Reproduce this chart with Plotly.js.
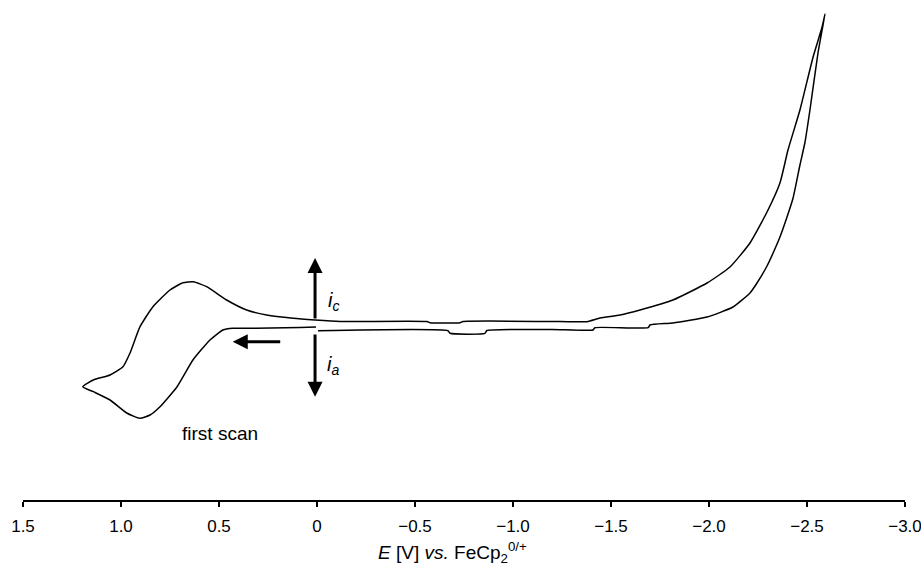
<!DOCTYPE html>
<html>
<head>
<meta charset="utf-8">
<script src="https://cdn.plot.ly/plotly-3.0.1.min.js"></script>
<style>html,body{margin:0;padding:0;background:#fff;}#chart{width:921px;height:569px;}</style>
</head>
<body>
<div id="chart"></div>
<script>
// Potential E (V vs FeCp2 0/+) and current (arbitrary units)
const potential = [
  0.005, 0.087, 0.235, 0.393, 0.429, 0.480, 0.546, 0.633, 0.714, 0.801, 0.852, 0.903, 0.971, 1.056, 1.141, 1.195,
  1.141, 1.056, 0.990, 0.954, 0.903, 0.837, 0.750, 0.684, 0.631, 0.563, 0.461, 0.359, 0.257, 0.122, 0.010,
  -0.117, -0.561, -0.577, -0.730, -0.745, -1.240, -1.378, -1.444, -1.546, -1.648, -1.816, -1.990, -2.107,
  -2.209, -2.296, -2.362, -2.403, -2.464, -2.531, -2.577, -2.592,
  -2.577, -2.556, -2.515, -2.490, -2.464, -2.429, -2.398, -2.362, -2.327, -2.296, -2.245, -2.209, -2.122,
  -1.990, -1.816, -1.699,
  -1.689, -1.418, -1.408, -1.199, -0.867, -0.857, -0.679, -0.668, -0.005
];
const current = [
  0.3, 0.25, 0.2, 0.17, 0.17, 0.0, -1.0, -3.0, -5.67, -7.67, -8.5, -8.83, -8.3, -7.0, -6.17, -5.67,
  -5.0, -4.5, -3.67, -2.3, 0.33, 2.33, 4.0, 4.73, 4.83, 4.33, 3.0, 2.0, 1.5, 1.17, 1.0,
  0.85, 0.85, 0.73, 0.73, 0.85, 0.85, 0.83, 1.2, 1.5, 2.0, 3.0, 4.7, 6.3,
  8.7, 11.8, 14.7, 18.0, 22.0, 27.3, 30.3, 31.6,
  30.0, 27.7, 22.0, 18.8, 16.5, 13.2, 11.3, 9.3, 7.7, 6.4, 4.7, 3.7, 2.3,
  1.3, 0.7, 0.5,
  0.23, 0.23, 0.0, 0.05, -0.05, -0.33, -0.33, -0.07, -0.07
];
const tickValues = [1.5, 1.0, 0.5, 0, -0.5, -1.0, -1.5, -2.0, -2.5, -3.0];
const tickLabels = ['1.5', '1.0', '0.5', '0', '\u22120.5', '\u22121.0', '\u22121.5', '\u22122.0', '\u22122.5', '\u22123.0'];

const font = 'Liberation Sans, Arial, Helvetica, sans-serif';

const trace = {
  x: potential, y: current, type: 'scatter', mode: 'lines',
  line: {color: '#000', width: 1.5, shape: 'spline', smoothing: 0.5},
  hoverinfo: 'skip'
};

const arrowCommon = {
  xref: 'x', yref: 'y', axref: 'x', ayref: 'y', text: '', showarrow: true,
  arrowhead: 2, arrowsize: 1, arrowwidth: 3, arrowcolor: '#000', standoff: 0, startstandoff: 0
};

const layout = {
  width: 921, height: 569,
  margin: {l: 23, r: 16, t: 10, b: 69},
  paper_bgcolor: '#fff', plot_bgcolor: '#fff',
  showlegend: false,
  font: {family: font, color: '#000', size: 16},
  xaxis: {
    range: [1.5, -3.0], autorange: false,
    tickvals: tickValues, ticktext: tickLabels,
    showline: true, linecolor: '#000', linewidth: 1.5,
    ticks: 'outside', ticklen: 5, tickwidth: 1.5, tickcolor: '#000',
    ticklabelstandoff: 5, ticklabeloverflow: 'allow',
    showgrid: false, zeroline: false,
    tickfont: {family: font, size: 17, color: '#000'}
  },
  yaxis: {
    range: [-17, 32], autorange: false, visible: false,
    showgrid: false, zeroline: false
  },
  annotations: [
    Object.assign({}, arrowCommon, {x: 0.01, y: 7.2, ax: 0.01, ay: 1.0}),
    Object.assign({}, arrowCommon, {x: 0.01, y: -6.67, ax: 0.01, ay: -0.3}),
    Object.assign({}, arrowCommon, {x: 0.430, y: -1.17, ax: 0.180, ay: -1.17}),
    {xref: 'x', yref: 'y', x: -0.084, y: 2.9, text: '<i>i</i><sub><i>c</i></sub>', showarrow: false,
     font: {family: font, size: 20, color: '#000'}},
    {xref: 'x', yref: 'y', x: -0.084, y: -3.5, text: '<i>i</i><sub><i>a</i></sub>', showarrow: false,
     font: {family: font, size: 20, color: '#000'}},
    {xref: 'x', yref: 'y', x: 0.495, y: -10.3, text: 'first scan', showarrow: false,
     font: {family: font, size: 19, color: '#000'}},
    {xref: 'x', yref: 'paper', x: -0.689, y: -0.108, yanchor: 'middle', showarrow: false,
     text: '<i>E</i> [V] <i>vs.</i> FeCp<sub>2</sub><sup>0/+</sup>',
     font: {family: font, size: 19, color: '#000'}}
  ]
};

Plotly.newPlot('chart', [trace], layout, {displayModeBar: false, staticPlot: true});
</script>
</body>
</html>
